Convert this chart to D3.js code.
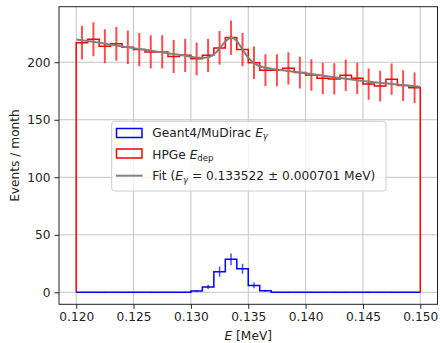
<!DOCTYPE html>
<html><head><meta charset="utf-8">
<script src="https://cdn.jsdelivr.net/npm/d3@7"></script>
<style>
html,body{margin:0;padding:0;background:#fff;}
svg{display:block;font-family:"DejaVu Sans",sans-serif;}
</style></head>
<body><svg id="c" width="440" height="343"></svg>
<script>
// ---- data ----
const binEdges = [0.120,0.121,0.122,0.123,0.124,0.125,0.126,0.127,0.128,0.129,0.130,0.131,0.132,0.133,0.134,0.135,0.136,0.137,0.138,0.139,0.140,0.141,0.142,0.143,0.144,0.145,0.146,0.147,0.148,0.149,0.150];
const hpgeCounts = [217,220,214,216,213,211,209,209,205,206,203,206,212.5,221.5,211,199.5,193,193,194.7,191,189,186,185.5,188.7,186,181,179.3,185.3,179.7,177.8];
const hpgeErrors = [14.7,14.8,14.6,14.7,14.6,14.5,14.5,14.5,14.3,14.4,14.2,14.4,14.6,14.9,14.5,14.1,13.9,13.9,14.0,13.8,13.7,13.6,13.6,13.7,13.6,13.5,13.4,13.6,13.4,13.3];
const geantCounts = [0,0,0,0,0,0,0,0,0,0,1.2,4.7,18,28.7,20.5,6,1.3,0,0,0,0,0,0,0,0,0,0,0,0,0];
const geantErrors = [0.5,0.5,0.5,0.5,0.5,0.5,0.5,0.5,0.5,0.5,0.8,1.8,4.5,5.1,4.4,2.5,0.9,0.5,0.5,0.5,0.5,0.5,0.5,0.5,0.5,0.5,0.5,0.5,0.5,0.5];
const fitX = [0.1200,0.1220,0.1240,0.1260,0.1280,0.1295,0.1305,0.1312,0.1318,0.1322,0.1326,0.1330,0.1333,0.13352,0.1338,0.1342,0.1346,0.1350,0.1354,0.1358,0.1364,0.1372,0.1385,0.1400,0.1420,0.1440,0.1460,0.1480,0.1500];
const fitY = [219.8,217.0,213.8,210.8,207.8,205.7,204.1,203.9,205.4,208.6,213.2,218.0,220.6,221.3,220.3,215.8,209.6,204.0,200.0,197.4,195.4,194.0,192.4,190.4,187.6,185.0,182.6,180.6,178.6];
const xTicks = [0.120,0.125,0.130,0.135,0.140,0.145,0.150];
const yTicks = [0,50,100,150,200];

// ---- layout ----
const L=59, R=437.5, T=6.7, B=304.3;
const svg = d3.select("#c");
const x = d3.scaleLinear().domain([0.1185,0.1515]).range([L,R]);
const y = d3.scaleLinear().domain([-10.4,248.3]).range([B,T]);

svg.append("defs").append("clipPath").attr("id","clip")
  .append("rect").attr("x",L).attr("y",T).attr("width",R-L).attr("height",B-T);

// grid
const grid = svg.append("g");
grid.selectAll(".gx").data(xTicks).enter().append("line")
  .attr("x1",d=>x(d)).attr("x2",d=>x(d)).attr("y1",T).attr("y2",B)
  .attr("stroke","#c4c4c4").attr("stroke-width",1);
grid.selectAll(".gy").data(yTicks).enter().append("line")
  .attr("y1",d=>y(d)).attr("y2",d=>y(d)).attr("x1",L).attr("x2",R)
  .attr("stroke","#c4c4c4").attr("stroke-width",1);

const plot = svg.append("g").attr("clip-path","url(#clip)");

function stepPts(counts){
  const pts=[[binEdges[0],0]];
  counts.forEach((c,i)=>{pts.push([binEdges[i],c]);pts.push([binEdges[i+1],c]);});
  pts.push([binEdges[binEdges.length-1],0]);
  return pts;
}
const line = d3.line().x(d=>x(d[0])).y(d=>y(d[1]));
const centers = hpgeCounts.map((c,i)=>(binEdges[i]+binEdges[i+1])/2);

// red histogram
plot.append("path").attr("d",line(stepPts(hpgeCounts)))
  .attr("fill","none").attr("stroke","#ff0000").attr("stroke-width",1.5);
plot.selectAll(".re").data(hpgeCounts).enter().append("line")
  .attr("x1",(d,i)=>x(centers[i])).attr("x2",(d,i)=>x(centers[i]))
  .attr("y1",(d,i)=>y(d-hpgeErrors[i])).attr("y2",(d,i)=>y(d+hpgeErrors[i]))
  .attr("stroke","#ff0000").attr("stroke-opacity",0.7).attr("stroke-width",2);

// blue histogram
plot.append("path").attr("d",line(stepPts(geantCounts)))
  .attr("fill","none").attr("stroke","#0000ff").attr("stroke-width",1.5);
plot.selectAll(".be").data(geantCounts).enter().append("line")
  .attr("x1",(d,i)=>x(centers[i])).attr("x2",(d,i)=>x(centers[i]))
  .attr("y1",(d,i)=>y(d-geantErrors[i])).attr("y2",(d,i)=>y(d+geantErrors[i]))
  .attr("stroke","#0000ff").attr("stroke-opacity",0.7).attr("stroke-width",1.5);

// fit
const fitLine = d3.line().x((d,i)=>x(fitX[i])).y(d=>y(d)).curve(d3.curveMonotoneX);
plot.append("path").attr("d",fitLine(fitY))
  .attr("fill","none").attr("stroke","#808080").attr("stroke-width",2);

// axes
const ax = svg.append("g").attr("transform",`translate(0,${B})`)
  .call(d3.axisBottom(x).tickValues(xTicks).tickFormat(d3.format(".3f")).tickSize(4.5).tickPadding(4));
const ay = svg.append("g").attr("transform",`translate(${L},0)`)
  .call(d3.axisLeft(y).tickValues(yTicks).tickSize(4.5).tickPadding(4));
[ax,ay].forEach(g=>{
  g.select(".domain").remove();
  g.selectAll("text").attr("font-size",12.2).attr("font-family","DejaVu Sans").attr("fill","#222");
  g.selectAll("line").attr("stroke","#222");
});
svg.append("rect").attr("x",L).attr("y",T).attr("width",R-L).attr("height",B-T)
  .attr("fill","none").attr("stroke","#222").attr("stroke-width",1);

// axis labels
const xl = svg.append("text").attr("x",(L+R)/2).attr("y",339.5).attr("text-anchor","middle")
  .attr("font-size",12.2).attr("fill","#222");
xl.append("tspan").attr("font-style","italic").text("E");
xl.append("tspan").text(" [MeV]");
svg.append("text").attr("transform",`translate(19,${(T+B)/2}) rotate(-90)`)
  .attr("text-anchor","middle").attr("font-size",12.2).attr("fill","#222").text("Events / month");

// legend
const lg = svg.append("g");
lg.append("rect").attr("x",111.7).attr("y",121.3).attr("width",274.3).attr("height",69.7)
  .attr("rx",3).attr("fill","#fff").attr("fill-opacity",0.8).attr("stroke","#cccccc").attr("stroke-width",1);
lg.append("rect").attr("x",116.5).attr("y",128.5).attr("width",25.5).attr("height",9)
  .attr("fill","none").attr("stroke","#0000ff").attr("stroke-width",1.5);
lg.append("rect").attr("x",116.5).attr("y",149).attr("width",25.5).attr("height",9)
  .attr("fill","none").attr("stroke","#ff0000").attr("stroke-width",1.5);
lg.append("line").attr("x1",116).attr("x2",142.5).attr("y1",175.7).attr("y2",175.7)
  .attr("stroke","#808080").attr("stroke-width",2);
const fs=12.2, ss=8.6;
const t1 = lg.append("text").attr("x",152.3).attr("y",136.7).attr("font-size",fs).attr("fill","#222");
t1.append("tspan").text("Geant4/MuDirac ");
t1.append("tspan").attr("font-style","italic").text("E");
t1.append("tspan").attr("font-style","italic").attr("font-size",ss).attr("dy",2.5).text("γ");
const t2 = lg.append("text").attr("x",152.3).attr("y",158.5).attr("font-size",fs).attr("fill","#222");
t2.append("tspan").text("HPGe ");
t2.append("tspan").attr("font-style","italic").text("E");
t2.append("tspan").attr("font-size",ss).attr("dy",2.5).text("dep");
const t3 = lg.append("text").attr("x",152.3).attr("y",180).attr("font-size",fs).attr("fill","#222");
t3.append("tspan").text("Fit (");
t3.append("tspan").attr("font-style","italic").text("E");
t3.append("tspan").attr("font-style","italic").attr("font-size",ss).attr("dy",2.5).text("γ");
t3.append("tspan").attr("dy",-2.5).text(" = 0.133522 ± 0.000701 MeV)");
</script></body></html>
